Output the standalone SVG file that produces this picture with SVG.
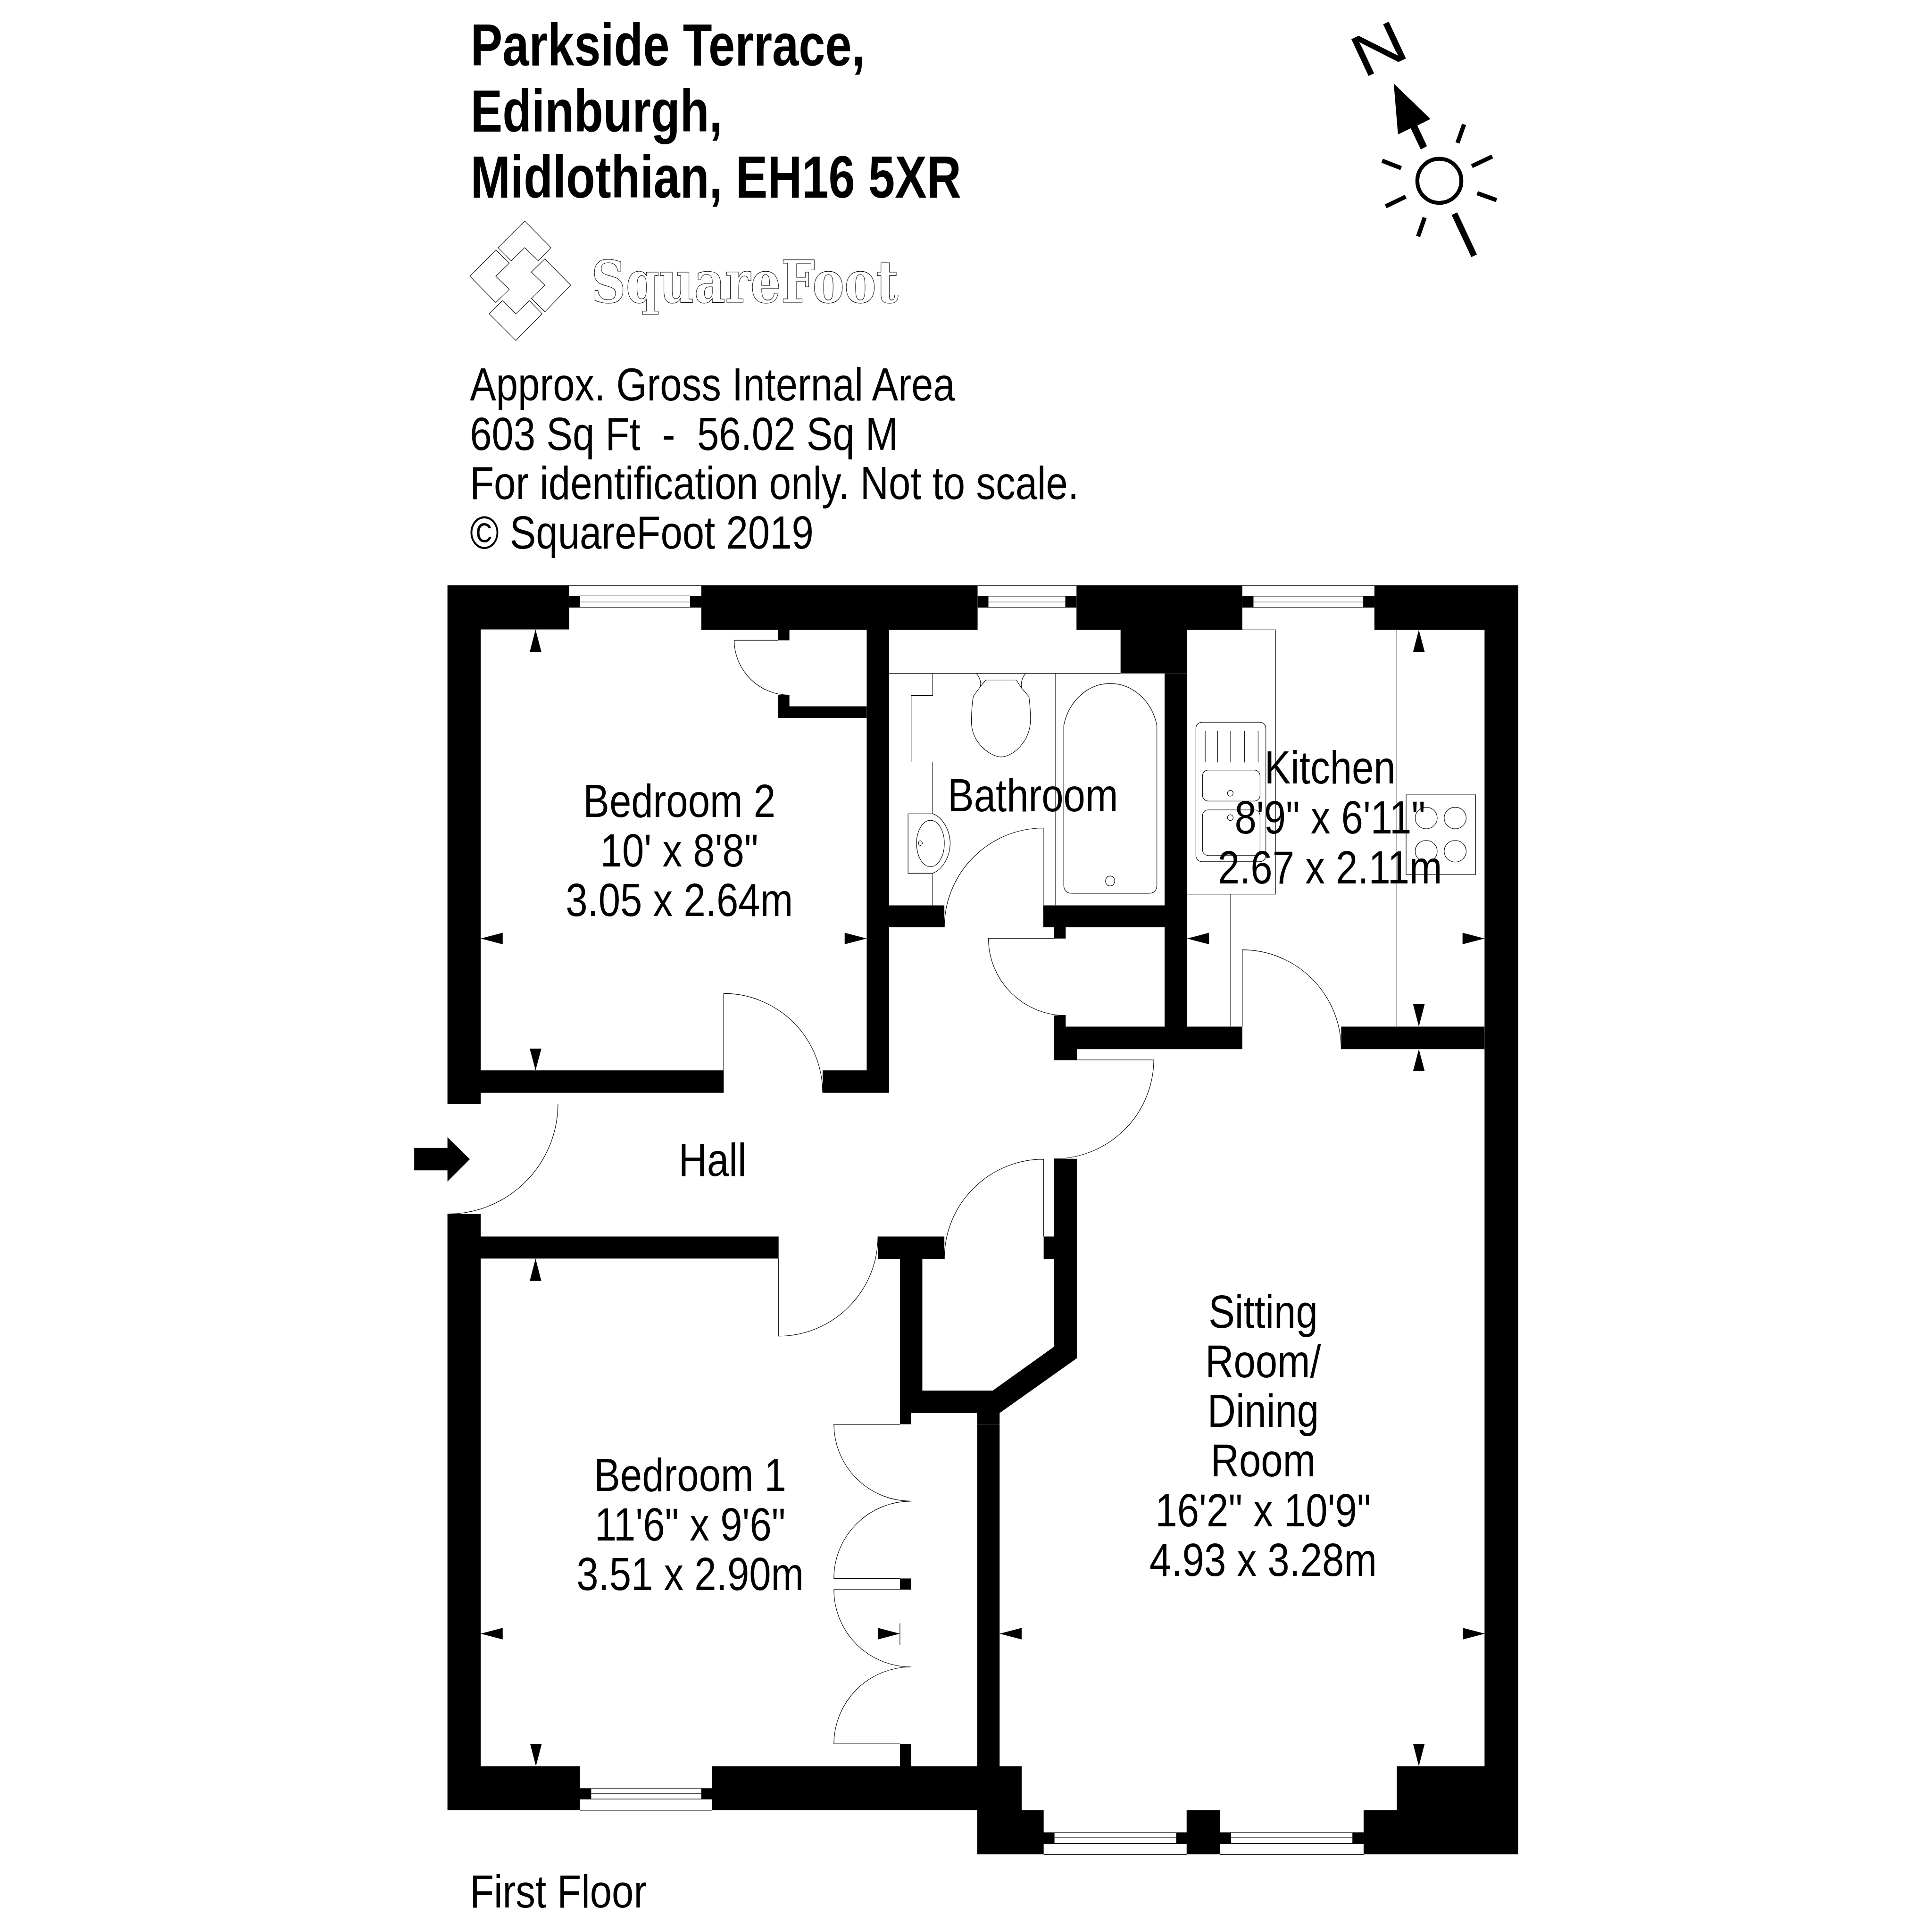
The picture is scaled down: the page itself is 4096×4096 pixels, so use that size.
<svg xmlns="http://www.w3.org/2000/svg" width="4096" height="4096" viewBox="0 0 4096 4096">
<style>
.bg{fill:#fff}
.w{fill:#000;stroke:none}
.l{fill:none;stroke:#000;stroke-width:1.4}
.r{stroke:#000;stroke-width:11;fill:none}
.t{font-family:"Liberation Sans",Arial,sans-serif;font-size:120px;fill:#000}
.m{text-anchor:middle}
.b{font-weight:700;font-size:154px}
.logo{font-family:"DejaVu Serif",serif;font-weight:700;font-size:150px;fill:#fff;stroke:#000;stroke-width:1.4}
</style>
<rect class="bg" width="4096" height="4096"/>
<g id="plan" transform="scale(0.8192)">
<g id="header">
<text class="t b" transform="translate(1218,170) scale(.802,1)">Parkside Terrace,</text>
<text class="t b" transform="translate(1218,341) scale(.802,1)">Edinburgh,</text>
<text class="t b" transform="translate(1218,511) scale(.802,1)">Midlothian, EH16 5XR</text>
<text class="t" transform="translate(1216,1036) scale(.848,1)">Approx. Gross Internal Area</text>
<text class="t" xml:space="preserve" transform="translate(1216,1164) scale(.848,1)">603 Sq Ft  -  56.02 Sq M</text>
<text class="t" transform="translate(1216,1292) scale(.848,1)">For identification only. Not to scale.</text>
<text class="t" transform="translate(1216,1420) scale(.848,1)">© SquareFoot 2019</text>
<text class="t" transform="translate(1216,4937) scale(.848,1)">First Floor</text>
</g>
<g id="logo">
<polygon class="l" points="1358,572 1426,641 1393,675 1358,641 1323,675 1289,641"/>
<polygon class="l" points="1283,647 1318,681 1283,715 1318,749 1283,783 1216,715"/>
<polygon class="l" points="1410,670 1477,738 1410,807 1375,772 1410,738 1375,704"/>
<polygon class="l" points="1300,778 1335,812 1370,778 1403,812 1335,881 1266,812"/>
<text class="logo" x="1530" y="782" textLength="795" lengthAdjust="spacingAndGlyphs">SquareFoot</text>
</g>
<g id="compass">
<text class="t" style="font-size:153px" text-anchor="middle" transform="translate(3568,127) rotate(-25) scale(1.25,1) translate(0,52)">N</text>
<polygon class="w" points="3607,216 3702,308 3668,325 3693,378 3677,387 3651,332 3618,348"/>
<circle cx="3725" cy="468" r="57" fill="none" stroke="#000" stroke-width="10"/>
<path class="r" d="M3789,322 L3772,370M3862,405 L3809,430M3823,500 L3873,518M3687,563 L3670,612M3638,509 L3586,534M3577,416 L3626,435"/>
<path class="r" style="stroke-width:16" d="M3764,553 L3815,662"/>
</g>
<g id="windows">
<path class="l" d="M1473,1515H1815M1501,1542H1786M1501,1558H1786M1473,1572H1815"/>
<path class="l" d="M2530,1515H2786M2558,1543H2757M2558,1558H2757M2530,1572H2786"/>
<path class="l" d="M3215,1515H3557M3244,1543H3528M3244,1558H3528M3215,1572H3557"/>
<path class="l" d="M1501,4685H1843M1530,4628H1815M1530,4642H1815M1501,4656H1843"/>
<path class="l" d="M2701,4799H3071M2729,4742H3044M2729,4756H3044M2701,4771H3071"/>
<path class="l" d="M3158,4799H3529M3186,4742H3500M3186,4756H3500M3158,4771H3529"/>
</g>
<g id="walls" class="w">
<path d="M1158,1515H1473V1629H1244V2857H1158Z"/>
<path d="M1473,1542H1501V1572H1473ZM1786,1542H1815V1572H1786Z"/>
<path d="M1815,1515H2530V1630H1815Z"/>
<path d="M2530,1543H2558V1572H2530ZM2757,1543H2786V1572H2757Z"/>
<path d="M2786,1515H3215V1630H3072V1743H2900V1630H2786Z"/>
<path d="M3215,1543H3244V1572H3215ZM3528,1543H3557V1572H3528Z"/>
<path d="M3557,1515H3929V4799H3529V4685H3615V4571H3842V1630H3557Z"/>
<path d="M2243,1629H2301V2828H2129V2770H2243Z"/>
<path d="M1244,2770H1873V2828H1244Z"/>
<path d="M2014,1629H2043V1657H2014ZM2014,1799H2043V1828H2243V1858H2014Z"/>
<path d="M2301,2343H2444V2400H2301ZM2700,2343H3014V1743H3072V2715H2787V2744H2728V2628H2758V2657H3014V2400H2758V2429H2728V2400H2700Z"/>
<path d="M3072,2657H3215V2715H3072ZM3471,2657H3842V2715H3471Z"/>
<path d="M1158,3142H1244V3200H2015V3257H1244V4571H1501V4628H1530V4656H1501V4685H1158Z"/>
<path d="M1815,4628H1843V4571H2329V4513H2358V4571H2529V3686H2587V4571H2644V4685H2701V4742H2729V4771H2701V4799H2529V4685H1843V4656H1815Z"/>
<path d="M2272,3200H2444V3258H2387V3599H2569L2728,3485V2999H2787V3515L2587,3657V3686H2529V3657H2358V3686H2329V3258H2272Z"/>
<path d="M2701,3200H2728V3258H2701Z"/>
<path d="M2329,4085H2358V4114H2329Z"/>
<path d="M3044,4742H3071V4685H3158V4742H3186V4771H3158V4799H3071V4771H3044Z"/>
<path d="M3500,4742H3529V4771H3500Z"/>
</g>
<g id="fixtures">
<path class="l" d="M2301,1743H2900M2732,1743V2343"/>
<path class="l" d="M2414,1743V1800H2358V1972H2414V2106M2414,2260V2343"/>
<path class="l" d="M2350,2106H2414C2440,2115 2459,2150 2459,2183C2459,2216 2440,2250 2414,2260H2350Z"/>
<ellipse class="l" cx="2408" cy="2183" rx="36" ry="60"/>
<ellipse class="l" cx="2382" cy="2182" rx="5" ry="6"/>
<path class="l" d="M2527,1743Q2541,1760 2537,1777L2551,1760H2630L2644,1781Q2640,1760 2654,1743M2537,1777L2519,1802C2515,1825 2514,1850 2514,1870C2516,1925 2565,1959 2591,1959C2620,1959 2667,1920 2667,1861C2667,1840 2665,1820 2663,1803L2644,1781"/>
<path class="l" d="M2753,2290V1878C2765,1815 2815,1769 2873,1769C2932,1769 2982,1815 2994,1878V2290Q2994,2312 2972,2312H2775Q2753,2312 2753,2290Z"/>
<ellipse class="l" cx="2873" cy="2280" rx="12" ry="13"/>
<path class="l" d="M3215,1630H3301V2314H3072M3185,2314V2657M3615,1630V2657"/>
<rect class="l" x="3095" y="1869" width="181" height="361" rx="16"/>
<path class="l" d="M3119,1892V1973M3151,1892V1973M3185,1892V1973M3221,1892V1973M3256,1892V1973"/>
<rect class="l" x="3112" y="1993" width="149" height="80" rx="15"/>
<rect class="l" x="3112" y="2096" width="149" height="118" rx="15"/>
<circle class="l" cx="3184" cy="2053" r="7.500"/>
<circle class="l" cx="3184" cy="2116" r="7.500"/>
<rect class="l" x="3639" y="2057" width="180" height="206"/>
<ellipse class="l" cx="3691" cy="2117" rx="28.500" ry="28"/>
<ellipse class="l" cx="3766" cy="2117" rx="28.500" ry="28"/>
<ellipse class="l" cx="3691" cy="2203" rx="28.500" ry="28"/>
<ellipse class="l" cx="3766" cy="2203" rx="28.500" ry="28"/>
</g>
<g id="doors" class="l">
<path d="M2014,1657H1900A143,143 0 0 0 2043,1799"/>
<path d="M1873,2770V2571A257,257 0 0 1 2129,2828"/>
<path d="M1244,2857H1444A286,286 0 0 1 1158,3142"/>
<path d="M2015,3257V3458A258,258 0 0 0 2272,3200"/>
<path d="M2700,2343V2143A257,257 0 0 0 2444,2400"/>
<path d="M2728,2429H2558A200,200 0 0 0 2758,2628"/>
<path d="M3215,2657V2458A257,257 0 0 1 3471,2715"/>
<path d="M2787,2743H2986A258,258 0 0 1 2728,2999"/>
<path d="M2701,3200V3000A257,257 0 0 0 2444,3258"/>
<path d="M2329,3686H2158A200,200 0 0 0 2358,3885A200,200 0 0 0 2158,4085H2329"/>
<path d="M2329,4114H2158A200,200 0 0 0 2358,4314A200,200 0 0 0 2158,4513H2329"/>
<path d="M2329,4201V4257"/>
</g>
<g id="arrows" class="w">
<polygon points="1072,2971 1158,2971 1158,2943 1216,3000 1158,3058 1158,3029 1072,3029"/>
<polygon points="1386,1629 1371,1687 1401,1687"/>
<polygon points="1386,2770 1371,2714 1401,2714"/>
<polygon points="1244,2429 1301,2414 1301,2444"/>
<polygon points="2243,2429 2186,2414 2186,2444"/>
<polygon points="3672,1630 3657,1687 3687,1687"/>
<polygon points="3672,2657 3657,2599 3687,2599"/>
<polygon points="3072,2429 3129,2414 3129,2444"/>
<polygon points="3842,2429 3785,2414 3785,2444"/>
<polygon points="3672,2715 3657,2772 3687,2772"/>
<polygon points="1386,3257 1371,3315 1401,3315"/>
<polygon points="1387,4571 1372,4513 1402,4513"/>
<polygon points="3672,4571 3657,4513 3687,4513"/>
<polygon points="1244,4228 1301,4213 1301,4243"/>
<polygon points="2329,4228 2272,4213 2272,4243"/>
<polygon points="2587,4228 2644,4213 2644,4243"/>
<polygon points="3843,4228 3786,4213 3786,4243"/>
</g>
<g id="labels">
<g id="bedroom2">
<text class="t m" transform="translate(1758,2114) scale(.848,1)">Bedroom 2</text>
<text class="t m" transform="translate(1758,2243) scale(.848,1)">10' x 8'8"</text>
<text class="t m" transform="translate(1758,2370) scale(.848,1)">3.05 x 2.64m</text>
</g>
<g id="bathroom">
<text class="t m" transform="translate(2673,2100) scale(.848,1)">Bathroom</text>
</g>
<g id="kitchen">
<text class="t m" transform="translate(3442,2028) scale(.848,1)">Kitchen</text>
<text class="t m" transform="translate(3442,2157) scale(.848,1)">8'9" x 6'11"</text>
<text class="t m" transform="translate(3442,2286) scale(.848,1)">2.67 x 2.11m</text>
</g>
<g id="hall">
<text class="t m" transform="translate(1844,3043) scale(.848,1)">Hall</text>
</g>
<g id="bedroom1">
<text class="t m" transform="translate(1786,3859) scale(.848,1)">Bedroom 1</text>
<text class="t m" transform="translate(1786,3987) scale(.848,1)">11'6" x 9'6"</text>
<text class="t m" transform="translate(1786,4115) scale(.848,1)">3.51 x 2.90m</text>
</g>
<g id="sitting">
<text class="t m" transform="translate(3269,3436) scale(.848,1)">Sitting</text>
<text class="t m" transform="translate(3269,3564) scale(.848,1)">Room/</text>
<text class="t m" transform="translate(3269,3693) scale(.848,1)">Dining</text>
<text class="t m" transform="translate(3269,3821) scale(.848,1)">Room</text>
<text class="t m" transform="translate(3269,3950) scale(.848,1)">16'2" x 10'9"</text>
<text class="t m" transform="translate(3269,4078) scale(.848,1)">4.93 x 3.28m</text>
</g>
</g>
</g>
</svg>
